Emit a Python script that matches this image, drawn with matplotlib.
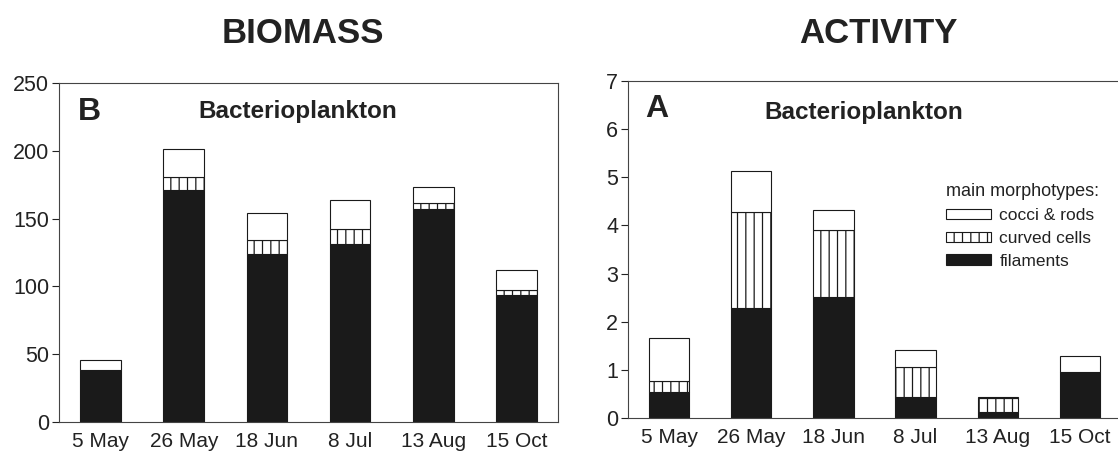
import matplotlib.pyplot as plt

plt.rcParams['font.family'] = ['Liberation Sans', 'DejaVu Sans']
plt.rcParams['hatch.linewidth'] = 0.9
plt.rcParams['hatch.color'] = '#111111'

dates = ["5 May", "26 May", "18 Jun", "8 Jul", "13 Aug", "15 Oct"]

# biomass per morphotype (left panel)
bio_filaments = [38, 171, 124, 131.5, 157, 94]
bio_curved = [0, 9.5, 10, 11, 4.5, 3]
bio_cocci = [7.5, 20.5, 20, 21.5, 12, 15]

# activity per morphotype (right panel)
act_filaments = [0.54, 2.28, 2.51, 0.44, 0.13, 0.96]
act_curved = [0.22, 2.00, 1.40, 0.61, 0.28, 0.0]
act_cocci = [0.91, 0.86, 0.42, 0.37, 0.03, 0.32]

W, H = 1118, 455
fig = plt.figure(figsize=(W / 100, H / 100), dpi=100)
ax1 = fig.add_axes([59 / W, (H - 422) / H, 499 / W, 339 / H])
ax2 = fig.add_axes([628 / W, (H - 418) / H, 493 / W, 337 / H])

ink = '#1a1a1a'
txt = '#222222'
bw = 0.49


def stack(ax, fil, cur, coc):
    x = range(len(dates))
    base2 = [a + b for a, b in zip(fil, cur)]
    b1 = ax.bar(x, fil, bw, color=ink, edgecolor=ink, linewidth=0.8)
    b2 = ax.bar(x, cur, bw, bottom=fil, color='white', edgecolor=ink,
                linewidth=0.8, hatch='||')
    b3 = ax.bar(x, coc, bw, bottom=base2, color='white', edgecolor=ink,
                linewidth=0.8)
    ax.set_xlim(-0.5, 5.5)
    ax.set_xticks(list(x))
    ax.set_xticklabels(dates)
    ax.tick_params(axis='x', length=0, pad=7, labelsize=15, colors=txt)
    ax.tick_params(axis='y', length=5, width=0.8, pad=2, labelsize=15.5,
                   colors=txt, direction='out')
    for s in ax.spines.values():
        s.set_linewidth(0.8)
        s.set_color('#444')
    return b1, b2, b3


stack(ax1, bio_filaments, bio_curved, bio_cocci)
ax1.set_ylim(0, 250)
ax1.set_yticks(range(0, 251, 50))

h = stack(ax2, act_filaments, act_curved, act_cocci)
ax2.set_ylim(0, 7)
ax2.set_yticks(range(0, 8))

# panel letters and subtitles
ax1.text(0.038, 0.891, "B", transform=ax1.transAxes, fontsize=23,
         fontweight='bold', va='baseline', ha='left', color=txt)
ax1.text(0.478, 0.897, "Bacterioplankton", transform=ax1.transAxes,
         fontsize=17.5, fontweight='bold', va='baseline', ha='center', color=txt)
ax2.text(0.034, 0.893, "A", transform=ax2.transAxes, fontsize=23,
         fontweight='bold', va='baseline', ha='left', color=txt)
ax2.text(0.479, 0.887, "Bacterioplankton", transform=ax2.transAxes,
         fontsize=17.5, fontweight='bold', va='baseline', ha='center', color=txt)

fig.text(303 / W, 1 - 43 / H, "BIOMASS", fontsize=25, fontweight='bold',
         ha='center', va='baseline', color=txt)
fig.text(878 / W, 1 - 43 / H, "ACTIVITY", fontsize=25, fontweight='bold',
         ha='center', va='baseline', color=txt)

leg = ax2.legend([h[2], h[1], h[0]], ["cocci & rods", "curved cells", "filaments"],
                 title="main morphotypes:", loc='upper left',
                 bbox_to_anchor=(0.63, 0.717), frameon=False, fontsize=12.5,
                 title_fontsize=13, handlelength=2.6, handleheight=0.55,
                 handletextpad=0.5, labelspacing=0.45, borderaxespad=0,
                 alignment='left')
for t in leg.get_texts():
    t.set_color(txt)
leg.get_title().set_color(txt)

fig.savefig("out.png", dpi=100)
